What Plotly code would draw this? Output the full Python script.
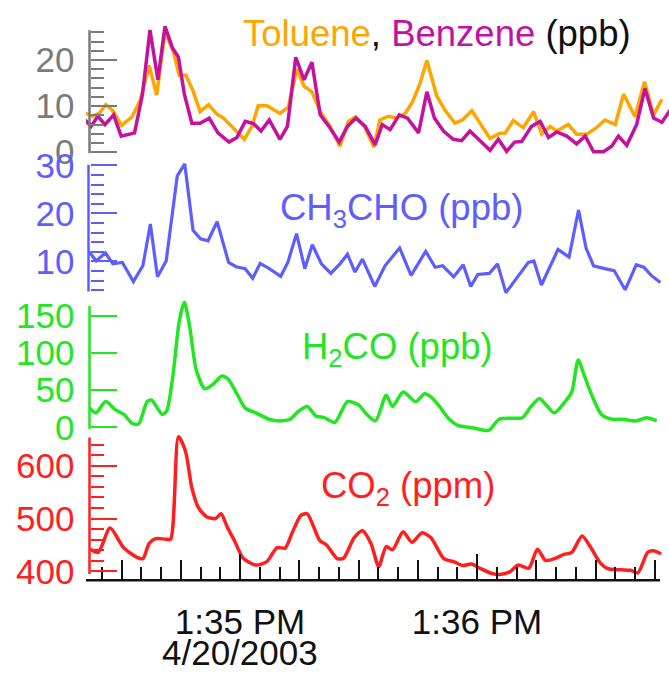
import pandas as pd
import plotly.graph_objects as go

# ---------------- data (seconds after 13:34:00 on 4/20/2003) ----------------
DATE0 = "2003-04-20 13:34:00"

toluene_t = [20.8, 22.6, 24.3, 26.0, 27.7, 30.0, 32.6, 34.7, 37.0, 38.9, 41.0, 43.1, 44.6, 46.3,
             48.2, 49.9, 52.0, 54.1, 55.8, 57.9, 59.4, 61.1, 63.0, 64.6, 66.8, 70.1, 72.2, 74.4,
             76.2, 78.2, 80.3, 82.8, 85.3, 87.4, 89.3, 91.5, 93.9, 95.4, 97.6, 99.7, 101.8,
             103.6, 105.6, 107.3, 109.8, 111.9, 114.4, 116.3, 118.7, 121.0, 123.3, 125.8, 127.1,
             129.2, 131.7, 134.3, 136.4, 138.5, 140.2, 143.1, 145.2, 147.8, 149.9, 152.4, 155.0,
             157.1, 160.0, 162.4, 164.7, 166.8]
toluene_v = [8.5, 7.8, 8.4, 10.3, 9.1, 5.8, 7.6, 11.2, 18.8, 12.4, 26.1, 21.9, 16.7, 16.7,
             13.1, 8.8, 10.3, 8.3, 7.4, 5.6, 4.1, 2.8, 5.6, 10.1, 10.1, 8.4, 9.8, 18.0,
             14.3, 13.1, 8.8, 5.6, 1.3, 6.7, 7.7, 5.6, 1.1, 7.0, 7.8, 7.4, 8.4,
             10.8, 15.0, 19.9, 12.2, 9.1, 6.3, 7.0, 9.0, 6.0, 3.0, 4.1, 4.1,
             6.9, 5.3, 8.8, 3.9, 5.6, 4.6, 6.0, 3.9, 3.9, 5.1, 7.0, 6.0,
             12.6, 7.7, 15.3, 8.1, 11.5]

benzene_t = [20.8, 22.3, 24.0, 25.8, 28.0, 29.9, 33.3, 35.3, 37.2, 39.2, 41.0, 42.9, 44.4, 45.9,
             47.8, 49.9, 52.2, 54.4, 57.2, 59.2, 61.3, 63.4, 65.3, 67.4, 70.1, 72.0, 74.1, 76.2,
             78.2, 80.3, 82.5, 85.1, 87.2, 89.3, 91.7, 94.2, 96.0, 98.0, 100.3, 102.4, 105.2,
             107.3, 109.2, 111.5, 114.0, 116.1, 118.2, 120.8, 123.3, 125.4, 127.5, 129.5, 131.3,
             133.8, 136.0, 138.1, 140.2, 142.7, 145.2, 147.4, 149.5, 152.0, 154.1, 155.8, 157.9,
             160.4, 162.5, 164.7, 166.8, 168.9]
benzene_v = [7.0, 5.6, 7.8, 6.0, 8.1, 3.5, 4.2, 12.6, 26.5, 15.7, 27.3, 22.6, 20.6, 12.6,
             6.3, 6.3, 7.4, 4.2, 2.2, 3.2, 6.7, 6.2, 4.6, 7.0, 2.8, 5.6, 20.6, 15.7,
             19.5, 8.1, 5.6, 2.2, 5.6, 7.4, 5.6, 1.6, 6.0, 4.9, 8.1, 7.4, 4.2,
             13.1, 7.4, 4.6, 2.8, 2.5, 4.6, 2.5, 0.4, 2.8, 0.2, 2.2, 2.3,
             5.6, 6.7, 3.2, 4.4, 3.5, 1.8, 3.5, 0.1, 0.1, 1.3, 3.5, 1.5,
             6.0, 13.8, 7.4, 6.5, 9.1]

ch3cho_t = [21.7, 23.6, 25.9, 27.8, 30.2, 33.0, 35.4, 37.3, 39.1, 41.3, 44.1, 46.0, 48.1, 50.0,
            51.9, 54.2, 57.1, 59.0, 61.3, 63.2, 65.1, 67.4, 70.3, 72.1, 74.3, 76.4, 78.3, 80.6,
            83.0, 85.3, 87.2, 89.1, 91.0, 94.1, 96.7, 100.4, 103.3, 107.0, 109.4, 111.3, 114.1,
            116.5, 118.4, 120.2, 123.1, 125.2, 127.3, 130.1, 133.0, 134.4, 136.3, 138.4, 140.5,
            143.3, 145.7, 147.6, 149.5, 152.3, 154.7, 157.5, 160.3, 162.2, 164.1, 166.4]
ch3cho_v = [12.1, 10.1, 11.8, 9.5, 9.8, 5.8, 9.1, 17.8, 6.8, 10.1, 27.8, 30.3, 16.5, 14.7,
            14.3, 18.3, 9.8, 8.9, 8.5, 6.5, 9.6, 8.5, 6.9, 9.8, 15.8, 8.5, 13.5, 9.5,
            7.5, 9.5, 11.5, 7.8, 10.5, 4.8, 9.1, 12.8, 7.1, 12.1, 8.8, 9.1, 6.8,
            9.3, 4.8, 7.3, 7.5, 9.5, 3.5, 6.5, 9.8, 10.1, 5.1, 8.8, 12.5,
            10.9, 20.7, 12.8, 9.1, 8.5, 8.1, 4.1, 9.3, 8.8, 7.1, 5.6]

h2co_t = [21.9, 23.5, 26.0, 28.4, 30.6, 32.7, 34.3, 36.5, 37.6, 40.3, 41.4, 43.0, 44.6, 45.9,
          47.3, 48.9, 51.1, 53.2, 55.4, 57.0, 59.2, 61.3, 64.0, 67.3, 70.5, 72.7, 74.8, 77.0,
          79.2, 81.3, 84.0, 87.2, 90.0, 92.1, 94.3, 97.0, 98.6, 101.3, 104.5, 106.7, 108.3,
          110.5, 112.6, 115.3, 118.0, 120.2, 122.9, 125.6, 128.8, 131.5, 133.7, 135.8, 137.5,
          139.6, 142.3, 144.0, 145.6, 147.2, 149.4, 151.5, 154.2, 156.9, 160.2, 162.9, 165.5]
h2co_v = [25.8, 19.4, 34.5, 23.7, 17.2, 5.2, 4.3, 34.5, 36.6, 17.2, 21.5, 68.9, 142.1, 168.0,
          133.5, 77.5, 51.7, 58.1, 68.9, 64.6, 45.2, 25.8, 19.4, 10.8, 8.6, 10.8, 21.5, 28.0,
          15.1, 12.9, 6.5, 34.5, 30.1, 17.2, 8.6, 43.1, 28.0, 47.4, 34.5, 45.2, 40.9,
          28.0, 12.9, 2.2, 0.0, -2.2, -4.3, 10.8, 12.1, 12.9, 28.0, 38.8, 30.1,
          19.4, 34.5, 47.4, 90.4, 68.9, 38.8, 17.2, 10.8, 10.8, 8.6, 12.9, 8.6]

co2_t = [22.1, 24.1, 27.1, 30.5, 33.8, 35.4, 37.0, 38.6, 41.1, 42.4, 44.4, 46.2, 47.8, 49.5,
         51.6, 53.8, 55.2, 56.7, 58.6, 60.8, 64.0, 66.7, 69.4, 71.4, 73.2, 75.4, 77.0, 78.6,
         80.2, 81.9, 84.6, 86.2, 88.9, 91.0, 93.2, 95.1, 97.0, 98.6, 101.3, 103.5, 106.1,
         108.3, 111.6, 114.2, 116.4, 118.6, 120.7, 123.4, 125.6, 128.3, 130.4, 133.1, 135.3,
         137.3, 139.6, 142.0, 144.0, 146.6, 148.8, 151.0, 153.1, 156.4, 158.9, 160.7, 163.2,
         164.7, 166.6]
co2_v = [442, 436, 482, 445, 427, 424, 453, 462, 461, 461, 655, 627, 558, 520,
         503, 500, 509, 485, 458, 425, 412, 418, 445, 444, 473, 506, 509, 485,
         458, 450, 424, 425, 464, 477, 452, 409, 447, 441, 475, 455, 473,
         464, 424, 418, 411, 414, 406, 397, 394, 399, 412, 406, 442,
         421, 424, 432, 436, 467, 445, 418, 405, 403, 402, 397, 436,
         439, 433]

x_window = [21.0, 168.6]                       # seconds after 13:34:00
tick15_sec = [30, 45, 75, 90, 105, 135, 150, 165]
minute_sec = [60, 120]
minute_labels = ["1:35 PM", "1:36 PM"]
date_label = "4/20/2003"

# ---------------- helpers ----------------
W, H = 669, 687
base = pd.Timestamp(DATE0)


def to_time(sec):
    return [(base + pd.to_timedelta(s, unit="s")).strftime("%Y-%m-%d %H:%M:%S.%f") for s in sec]


def PX(x):
    return x / W


def PY(y):
    return 1 - y / H


FONT = "Liberation Sans, Arial, sans-serif"
FS = 35
FS_TITLE = 36.5
C_TOL, C_BEN = "#ffa500", "#c4119e"
C_GRAY = "#7a7a7a"
C_BLUE = "#5e5eff"
C_GREEN = "#22e622"
C_RED = "#ff1f1f"

fig = go.Figure()
fig.add_trace(go.Scatter(x=to_time(toluene_t), y=toluene_v, xaxis="x", yaxis="y",
                         mode="lines", line=dict(color=C_TOL, width=3.5)))
fig.add_trace(go.Scatter(x=to_time(benzene_t), y=benzene_v, xaxis="x", yaxis="y",
                         mode="lines", line=dict(color=C_BEN, width=3.5)))
fig.add_trace(go.Scatter(x=to_time(ch3cho_t), y=ch3cho_v, xaxis="x", yaxis="y2",
                         mode="lines", line=dict(color=C_BLUE, width=3.2)))
fig.add_trace(go.Scatter(x=to_time(h2co_t), y=h2co_v, xaxis="x", yaxis="y3",
                         mode="lines", line=dict(color=C_GREEN, width=3.5, shape="spline", smoothing=0.7)))
fig.add_trace(go.Scatter(x=to_time(co2_t), y=co2_v, xaxis="x", yaxis="y4",
                         mode="lines", line=dict(color=C_RED, width=3.5, shape="spline", smoothing=0.7)))
# empty trace so the overlay time axis (minute ticks + labels) is rendered
fig.add_trace(go.Scatter(x=[], y=[], xaxis="x5", yaxis="y4", mode="lines"))

xr = to_time(x_window)
xdom = [PX(86), 1.0]
ypos = PX(89.5)


def yax(dom, rng, vals, color, minor_dtick=None):
    d = dict(domain=dom, range=rng, anchor="free", position=ypos, tickmode="array",
             tickvals=vals, ticks="inside", ticklen=26, tickwidth=2, tickcolor=color,
             tickfont=dict(family=FONT, size=FS, color=color), showgrid=False,
             zeroline=False, showline=False, ticklabelstandoff=15, fixedrange=True)
    if minor_dtick:
        d["minor"] = dict(dtick=minor_dtick, ticks="inside", ticklen=13, tickwidth=2,
                          tickcolor=color, showgrid=False)
    return d


fig.update_layout(
    width=W, height=H, margin=dict(l=0, r=0, t=0, b=0),
    paper_bgcolor="white", plot_bgcolor="rgba(0,0,0,0)", showlegend=False,
    font=dict(family=FONT),
    xaxis=dict(type="date", domain=xdom, range=xr, anchor="y4", showgrid=False, zeroline=False,
               showline=False, tickmode="array", tickvals=to_time(tick15_sec), ticks="inside",
               ticklen=20, tickwidth=2, tickcolor="#111", showticklabels=False,
               minor=dict(dtick=5000, ticks="inside", ticklen=13, tickwidth=2, tickcolor="#111",
                          showgrid=False)),
    xaxis5=dict(type="date", domain=xdom, range=xr, anchor="y4", overlaying="x", showgrid=False,
                zeroline=False, showline=False, tickmode="array", tickvals=to_time(minute_sec),
                ticktext=minute_labels, ticks="inside", ticklen=26, tickwidth=2, tickcolor="#111",
                tickfont=dict(family=FONT, size=FS, color="#111"), ticklabelstandoff=18),
    yaxis=yax([PY(150), PY(14)], [-0.625, 27.71], [0, 10, 20], C_GRAY, 2),
    yaxis2=yax([PY(300), PY(152)], [2.14, 31.74], [10, 20, 30], C_BLUE, 2),
    yaxis3=yax([PY(442), PY(300)], [-11.24, 172.2], [0, 50, 100, 150], C_GREEN),
    yaxis4=yax([PY(592), PY(441)], [384.2, 658.7], [400, 500, 600], C_RED, 20),
)

# axis lines
axis_lines = [(89.5, 20, 148, C_GRAY), (88.5, 160, 292, C_BLUE), (89.5, 307, 435, C_GREEN),
              (89.5, 444, 586, C_RED)]
for x, y0, y1, c in axis_lines:
    fig.add_shape(type="line", xref="paper", yref="paper", x0=PX(x), x1=PX(x), y0=PY(y0), y1=PY(y1),
                  line=dict(color=c, width=2.5))
fig.add_shape(type="line", xref="paper", yref="paper", x0=PX(86), x1=PX(660), y0=PY(592.5),
              y1=PY(592.5), line=dict(color="#111", width=2.5))

# titles
titles = [
    (241, 23, '<span style="color:%s">Toluene</span>, <span style="color:%s">Benzene</span> (ppb)'
     % (C_TOL, C_BEN), "#111"),
    (278, 207, "CH<sub>3</sub>CHO (ppb)", C_BLUE),
    (300, 352, "H<sub>2</sub>CO (ppb)", C_GREEN),
    (319, 496, "CO<sub>2</sub> (ppm)", C_RED),
]
for x, y, txt, c in titles:
    fig.add_annotation(xref="paper", yref="paper", x=PX(x), y=PY(y), xanchor="left", yanchor="middle",
                       text=txt, showarrow=False, font=dict(family=FONT, size=FS_TITLE, color=c))

fig.add_annotation(xref="x5", yref="paper", x=to_time([60])[0], y=PY(668), xanchor="center",
                   yanchor="middle", text=date_label, showarrow=False,
                   font=dict(family=FONT, size=FS, color="#111"))

fig.write_html("out.html", post_script="document.body.style.margin='0px';")
